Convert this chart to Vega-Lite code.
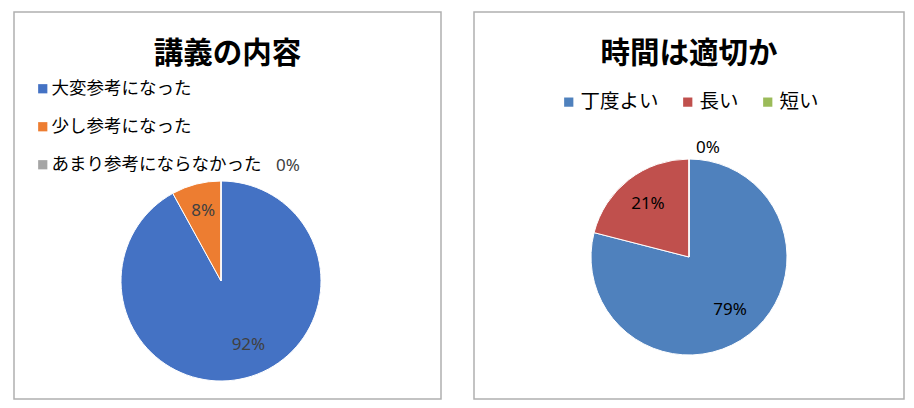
{
  "$schema": "https://vega.github.io/schema/vega-lite/v6.json",
  "background": "white",
  "padding": {"left": 13, "top": 11, "right": 12, "bottom": 10},
  "spacing": 31,
  "config": {
    "font": "Noto Sans CJK JP",
    "view": {"stroke": "#b0b0b0", "strokeWidth": 1.5},
    "title": {"fontSize": 29.5, "fontWeight": "bold", "color": "#000000", "anchor": "middle"},
    "legend": {
      "title": null,
      "padding": 0,
      "labelColor": "#000000",
      "labelLimit": 400,
      "symbolType": "square",
      "symbolSize": 85,
      "symbolStrokeWidth": 0
    }
  },
  "hconcat": [
    {
      "width": 427,
      "height": 387,
      "view": {"stroke": "#b0b0b0", "strokeWidth": 1.5},
      "title": {"text": "講義の内容", "offset": -57},
      "data": {
        "values": [
          {"item": "大変参考になった", "value": 0.92, "rank": 1},
          {"item": "少し参考になった", "value": 0.08, "rank": 2},
          {"item": "あまり参考にならなかった", "value": 0, "rank": 3}
        ]
      },
      "encoding": {
        "theta": {"field": "value", "type": "quantitative", "stack": true},
        "order": {"field": "rank", "type": "quantitative"}
      },
      "layer": [
        {
          "mark": {"type": "arc", "outerRadius": 100, "x": 207, "y": 269, "stroke": "white", "strokeWidth": 1},
          "encoding": {
            "color": {
              "field": "item",
              "type": "nominal",
              "scale": {
                "domain": ["大変参考になった", "少し参考になった", "あまり参考にならなかった"],
                "range": ["#4472C4", "#ED7D31", "#A5A5A5"]
              },
              "legend": {"orient": "none", "legendX": 20, "legendY": 68, "direction": "vertical", "rowPadding": 19, "labelFontSize": 17.5, "labelOffset": 0}
            }
          }
        },
        {
          "mark": {"type": "text", "radius": 66, "x": 207, "y": 269, "dx": 11, "fontSize": 17, "font": "Noto Sans", "color": "#404040"},
          "encoding": {
            "text": {"condition": {"test": "datum.rank == 1", "field": "value", "type": "quantitative", "format": ".0%"}, "value": ""}
          }
        },
        {
          "mark": {"type": "text", "radius": 72, "x": 207, "y": 269, "fontSize": 17, "font": "Noto Sans", "color": "#404040"},
          "encoding": {
            "text": {"condition": {"test": "datum.rank == 2", "field": "value", "type": "quantitative", "format": ".0%"}, "value": ""}
          }
        },
        {
          "mark": {"type": "text", "radius": 115, "x": 207, "y": 269, "dx": 67, "fontSize": 17, "font": "Noto Sans", "color": "#404040"},
          "encoding": {
            "text": {"condition": {"test": "datum.rank == 3", "field": "value", "type": "quantitative", "format": ".0%"}, "value": ""}
          }
        }
      ]
    },
    {
      "width": 430,
      "height": 387,
      "view": {"stroke": "#b0b0b0", "strokeWidth": 1.5},
      "title": {"text": "時間は適切か", "offset": -57},
      "data": {
        "values": [
          {"item": "丁度よい", "value": 0.79, "rank": 1},
          {"item": "長い", "value": 0.21, "rank": 2},
          {"item": "短い", "value": 0, "rank": 3}
        ]
      },
      "encoding": {
        "theta": {"field": "value", "type": "quantitative", "stack": true},
        "order": {"field": "rank", "type": "quantitative"}
      },
      "layer": [
        {
          "mark": {"type": "arc", "outerRadius": 98, "x": 215, "y": 245, "stroke": "white", "strokeWidth": 1},
          "encoding": {
            "color": {
              "field": "item",
              "type": "nominal",
              "scale": {
                "domain": ["丁度よい", "長い", "短い"],
                "range": ["#4F81BD", "#C0504D", "#9BBB59"]
              },
              "legend": {"orient": "none", "legendX": 85, "legendY": 80, "direction": "horizontal", "columns": 3, "columnPadding": 19, "labelFontSize": 19.5, "labelOffset": 2}
            }
          }
        },
        {
          "mark": {"type": "text", "radius": 67, "x": 215, "y": 245, "fontSize": 17, "font": "Noto Sans", "color": "#000000"},
          "encoding": {
            "text": {"condition": {"test": "datum.value > 0", "field": "value", "type": "quantitative", "format": ".0%"}, "value": ""}
          }
        },
        {
          "mark": {"type": "text", "radius": 109, "x": 215, "y": 245, "dx": 19, "fontSize": 17, "font": "Noto Sans", "color": "#000000"},
          "encoding": {
            "text": {"condition": {"test": "datum.value == 0", "field": "value", "type": "quantitative", "format": ".0%"}, "value": ""}
          }
        }
      ]
    }
  ],
  "resolve": {"scale": {"color": "independent", "theta": "independent"}, "legend": {"color": "independent"}}
}
